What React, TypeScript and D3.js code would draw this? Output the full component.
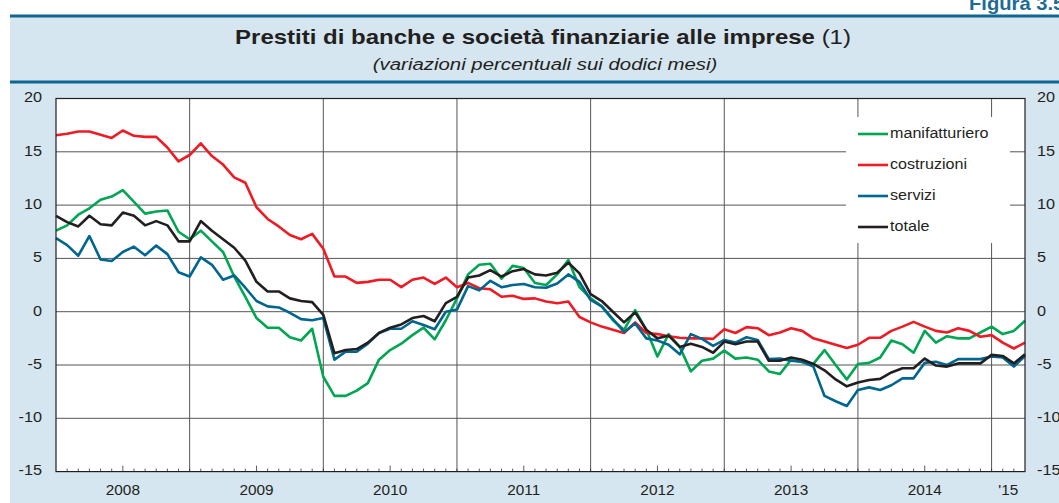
import { line, range, scaleLinear } from 'd3';

// monthly data, Jan 2008 - Apr 2015
const yearLabels = ['2008', '2009', '2010', '2011', '2012', '2013', '2014', "'15"]
const yTicks = [20, 15, 10, 5, 0, -5, -10, -15]

const manifatturiero = [
  7.6, 8.1, 9.1, 9.7, 10.5, 10.8, 11.4, 10.3, 9.2, 9.4, 9.5, 7.5,
  6.8, 7.6, 6.6, 5.6, 3.3, 1.4, -0.6, -1.5, -1.5, -2.4, -2.7, -1.6,
  -6.1, -7.9, -7.9, -7.4, -6.7, -4.5, -3.6, -3.0, -2.2, -1.5, -2.6, -0.8,
  1.25, 3.5, 4.4, 4.5, 3.1, 4.3, 4.1, 2.7, 2.5, 3.5, 4.85, 2.3,
  1.25, 0.5, -0.8, -1.7, 0.15, -1.7, -4.2, -2.1, -3.3, -5.6, -4.6, -4.4,
  -3.65, -4.4, -4.3, -4.5, -5.6, -5.85, -4.5, -4.75, -4.9, -3.6, -5.0, -6.35,
  -4.9, -4.8, -4.3, -2.7, -3.05, -3.85, -1.8, -2.9, -2.3, -2.5, -2.5, -1.95,
  -1.4, -2.1, -1.8, -0.85,
]

const costruzioni = [
  16.55, 16.7, 16.9, 16.9, 16.6, 16.3, 17.0, 16.5, 16.4, 16.4, 15.4, 14.1,
  14.7, 15.8, 14.6, 13.8, 12.6, 12.1, 9.8, 8.7, 8.0, 7.2, 6.8, 7.3,
  5.9, 3.3, 3.3, 2.7, 2.8, 3.0, 3.0, 2.3, 3.0, 3.2, 2.6, 3.2,
  2.3, 2.7, 2.2, 2.1, 1.4, 1.5, 1.2, 1.25, 0.95, 0.8, 0.95, -0.5,
  -1.0, -1.4, -1.7, -2.0, -1.0, -2.0, -2.1, -2.3, -2.45, -2.5, -2.5, -2.55,
  -1.65, -2.0, -1.45, -1.55, -2.2, -1.95, -1.55, -1.8, -2.5, -2.8, -3.1, -3.4,
  -3.1, -2.45, -2.45, -1.8, -1.4, -0.95, -1.4, -1.8, -1.95, -1.55, -1.8, -2.35,
  -2.2, -2.9, -3.45, -2.9,
]

const servizi = [
  6.9, 6.25, 5.25, 7.1, 4.9, 4.75, 5.6, 6.1, 5.3, 6.2, 5.4, 3.7,
  3.3, 5.1, 4.4, 3.0, 3.4, 2.25, 1.0, 0.5, 0.4, -0.1, -0.7, -0.8,
  -0.6, -4.5, -3.75, -3.75, -3.0, -2.0, -1.6, -1.6, -0.9, -1.25, -1.65, 0.0,
  0.2, 2.4, 2.0, 2.9, 2.3, 2.5, 2.6, 2.3, 2.25, 2.65, 3.5, 2.8,
  1.1, 0.5, -0.7, -1.9, -1.1, -2.5, -2.7, -3.1, -4.0, -2.1, -2.55, -3.2,
  -2.65, -2.9, -2.4, -2.65, -4.45, -4.4, -4.6, -4.7, -5.15, -7.9, -8.4, -8.85,
  -7.35, -7.1, -7.35, -6.9, -6.25, -6.25, -4.8, -4.7, -5.0, -4.45, -4.45, -4.45,
  -4.2, -4.3, -5.15, -4.15,
]

const totale = [
  9.0, 8.4, 8.0, 9.0, 8.2, 8.1, 9.3, 9.0, 8.1, 8.5, 8.1, 6.6,
  6.6, 8.5, 7.6, 6.8, 6.0, 4.8, 2.8, 1.9, 1.9, 1.25, 1.0, 0.9,
  -0.3, -3.9, -3.6, -3.5, -2.9, -2.0, -1.5, -1.2, -0.6, -0.4, -0.9, 0.8,
  1.4, 3.2, 3.4, 3.9, 3.3, 3.8, 4.0, 3.5, 3.4, 3.65, 4.6, 3.6,
  1.65, 1.0, 0.0, -1.0, -0.06, -1.7, -2.5, -2.25, -3.3, -3.0, -3.3, -3.85,
  -2.8, -3.05, -2.8, -2.8, -4.6, -4.6, -4.3, -4.5, -4.9, -5.5, -6.35, -7.0,
  -6.65, -6.4, -6.3, -5.7, -5.3, -5.3, -4.4, -5.05, -5.15, -4.85, -4.85, -4.85,
  -4.05, -4.15, -4.85, -4.0,
]

const seriesNames = ['manifatturiero', 'costruzioni', 'servizi', 'totale']
const seriesValues = [manifatturiero, costruzioni, servizi, totale]
const seriesColors = ['#00a651', '#ed1c24', '#00668f', '#231f20']

const W = 1059
const H = 503
const plot = { left: 56, right: 1025, top: 98.5, bottom: 471.6 }
const font = '"Liberation Sans", Arial, sans-serif'
const panelBlue = '#d5e6f0'
const ruleBlue = '#0f6690'
const ink = '#231f20'
// the source figure's type is a little wider than Arial
const stretch = 1.2

const App = () => {
  const nMonths = manifatturiero.length
  const x = scaleLinear().domain([0, nMonths - 1]).range([plot.left, plot.right])
  const y = scaleLinear().domain([-15, 20]).range([plot.bottom, plot.top])
  const path = line<number>().x((_, i) => x(i)).y(d => y(d))

  const yearStarts = range(12, nMonths, 12)
  const months = range(1, nMonths - 1)

  return (
    <svg width={W} height={H} style={{ position: 'absolute', left: 0, top: 0 }} fontFamily={font}>
      <rect x={10} y={16} width={W - 10} height={H - 16} fill={panelBlue} />
      <line x1={10} x2={W} y1={16} y2={16} stroke={ruleBlue} strokeWidth={3} />
      <line x1={10} x2={W} y1={82} y2={82} stroke={ruleBlue} strokeWidth={3} />
      {/* cut off at the page edge, as in the source */}
      <text transform={`translate(969, 10) scale(1.12, 1)`} fontSize={18} fontWeight="bold" fill="#1d6b93">Figura 3.5</text>

      <text transform={`translate(543, 43.5) scale(${stretch}, 1)`} textAnchor="middle" fontSize={20} fill={ink}>
        <tspan fontWeight="bold">Prestiti di banche e società finanziarie alle imprese</tspan>
        <tspan> (1)</tspan>
      </text>
      <text transform={`translate(545, 70) scale(${stretch}, 1)`} textAnchor="middle" fontSize={17} fontStyle="italic" fill={ink}>
        (variazioni percentuali sui dodici mesi)
      </text>

      <rect x={plot.left} y={plot.top} width={plot.right - plot.left} height={plot.bottom - plot.top} fill="#fff" />

      {yTicks.slice(1, -1).map(t => (
        <line key={'h' + t} x1={plot.left} x2={plot.right} y1={y(t)} y2={y(t)} stroke="#555" strokeWidth={1} />
      ))}
      {yearStarts.map(m => (
        <line key={'v' + m} x1={x(m)} x2={x(m)} y1={plot.top} y2={plot.bottom} stroke="#555" strokeWidth={1} />
      ))}
      {months.map(m => (
        <line key={'t' + m} x1={x(m)} x2={x(m)} y1={plot.bottom} y2={plot.bottom - (m % 12 === 6 ? 6 : 3)}
          stroke="#333" strokeWidth={0.8} />
      ))}

      <rect x={846} y={117} width={164} height={126} fill="#fff" />

      {seriesValues.map((vals, k) => (
        <path key={seriesNames[k]} d={path(vals) ?? ''} fill="none" stroke={seriesColors[k]}
          strokeWidth={2.6} strokeLinejoin="round" />
      ))}

      <rect x={plot.left} y={plot.top} width={plot.right - plot.left} height={plot.bottom - plot.top}
        fill="none" stroke={ink} strokeWidth={1.2} />

      {yTicks.map(t => (
        <g key={'yl' + t} fontSize={14.5} fill={ink}>
          <text transform={`translate(42, ${y(t)}) scale(1.12, 1)`} textAnchor="end" dominantBaseline="middle">{t}</text>
          <text transform={`translate(1037, ${y(t)}) scale(1.12, 1)`} textAnchor="start" dominantBaseline="middle">{t}</text>
        </g>
      ))}

      {yearLabels.map((lab, k) => {
        const a = x(k * 12)
        const b = Math.min(x((k + 1) * 12), plot.right)
        return (
          <text key={lab} transform={`translate(${(a + b) / 2}, 495) scale(1.06, 1)`} textAnchor="middle"
            fontSize={14.5} fill={ink}>{lab}</text>
        )
      })}

      {seriesNames.map((name, k) => (
        <g key={'lg' + name} transform={`translate(858, ${134 + k * 31})`}>
          <line x1={0} x2={30} y1={0} y2={0} stroke={seriesColors[k]} strokeWidth={2.6} />
          <text transform={`translate(32, 0) scale(1.075, 1)`} dominantBaseline="middle" fontSize={15} fill={ink}>{name}</text>
        </g>
      ))}
    </svg>
  )
}

export default App
